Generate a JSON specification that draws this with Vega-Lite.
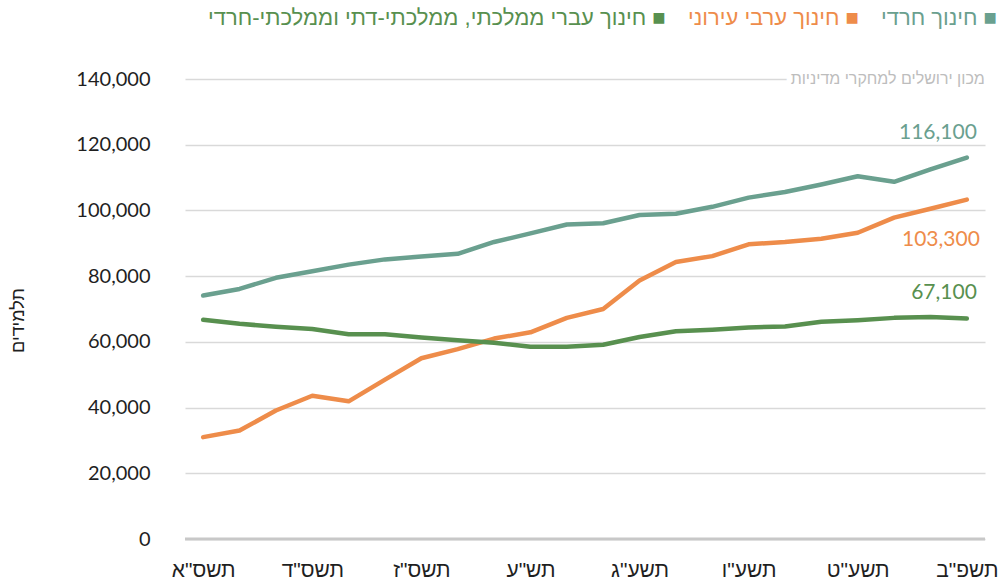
{
  "$schema": "https://vega.github.io/schema/vega-lite/v6.json",
  "width": 800,
  "height": 460,
  "autosize": "none",
  "padding": {"left": 185, "top": 79, "right": 15, "bottom": 44},
  "background": "white",
  "config": {"view": {"stroke": null}, "font": "Liberation Sans"},
  "data": {"values": [
    {"year": "תשס\"א", "series": "חינוך חרדי", "value": 74100},
    {"year": "תשס\"ב", "series": "חינוך חרדי", "value": 76100},
    {"year": "תשס\"ג", "series": "חינוך חרדי", "value": 79500},
    {"year": "תשס\"ד", "series": "חינוך חרדי", "value": 81500},
    {"year": "תשס\"ה", "series": "חינוך חרדי", "value": 83500},
    {"year": "תשס\"ו", "series": "חינוך חרדי", "value": 85100},
    {"year": "תשס\"ז", "series": "חינוך חרדי", "value": 86000},
    {"year": "תשס\"ח", "series": "חינוך חרדי", "value": 86800},
    {"year": "תשס\"ט", "series": "חינוך חרדי", "value": 90400},
    {"year": "תש\"ע", "series": "חינוך חרדי", "value": 93000},
    {"year": "תשע\"א", "series": "חינוך חרדי", "value": 95700},
    {"year": "תשע\"ב", "series": "חינוך חרדי", "value": 96100},
    {"year": "תשע\"ג", "series": "חינוך חרדי", "value": 98600},
    {"year": "תשע\"ד", "series": "חינוך חרדי", "value": 99000},
    {"year": "תשע\"ה", "series": "חינוך חרדי", "value": 101100},
    {"year": "תשע\"ו", "series": "חינוך חרדי", "value": 103900},
    {"year": "תשע\"ז", "series": "חינוך חרדי", "value": 105600},
    {"year": "תשע\"ח", "series": "חינוך חרדי", "value": 107900},
    {"year": "תשע\"ט", "series": "חינוך חרדי", "value": 110400},
    {"year": "תש\"פ", "series": "חינוך חרדי", "value": 108700},
    {"year": "תשפ\"א", "series": "חינוך חרדי", "value": 112500},
    {"year": "תשפ\"ב", "series": "חינוך חרדי", "value": 116100},
    {"year": "תשס\"א", "series": "חינוך ערבי עירוני", "value": 31000},
    {"year": "תשס\"ב", "series": "חינוך ערבי עירוני", "value": 33000},
    {"year": "תשס\"ג", "series": "חינוך ערבי עירוני", "value": 39100},
    {"year": "תשס\"ד", "series": "חינוך ערבי עירוני", "value": 43600},
    {"year": "תשס\"ה", "series": "חינוך ערבי עירוני", "value": 41900},
    {"year": "תשס\"ו", "series": "חינוך ערבי עירוני", "value": 48500},
    {"year": "תשס\"ז", "series": "חינוך ערבי עירוני", "value": 55000},
    {"year": "תשס\"ח", "series": "חינוך ערבי עירוני", "value": 57800},
    {"year": "תשס\"ט", "series": "חינוך ערבי עירוני", "value": 61000},
    {"year": "תש\"ע", "series": "חינוך ערבי עירוני", "value": 62900},
    {"year": "תשע\"א", "series": "חינוך ערבי עירוני", "value": 67300},
    {"year": "תשע\"ב", "series": "חינוך ערבי עירוני", "value": 70000},
    {"year": "תשע\"ג", "series": "חינוך ערבי עירוני", "value": 78700},
    {"year": "תשע\"ד", "series": "חינוך ערבי עירוני", "value": 84300},
    {"year": "תשע\"ה", "series": "חינוך ערבי עירוני", "value": 86100},
    {"year": "תשע\"ו", "series": "חינוך ערבי עירוני", "value": 89700},
    {"year": "תשע\"ז", "series": "חינוך ערבי עירוני", "value": 90400},
    {"year": "תשע\"ח", "series": "חינוך ערבי עירוני", "value": 91400},
    {"year": "תשע\"ט", "series": "חינוך ערבי עירוני", "value": 93200},
    {"year": "תש\"פ", "series": "חינוך ערבי עירוני", "value": 97800},
    {"year": "תשפ\"א", "series": "חינוך ערבי עירוני", "value": 100500},
    {"year": "תשפ\"ב", "series": "חינוך ערבי עירוני", "value": 103300},
    {"year": "תשס\"א", "series": "חינוך עברי ממלכתי, ממלכתי-דתי וממלכתי-חרדי", "value": 66700},
    {"year": "תשס\"ב", "series": "חינוך עברי ממלכתי, ממלכתי-דתי וממלכתי-חרדי", "value": 65500},
    {"year": "תשס\"ג", "series": "חינוך עברי ממלכתי, ממלכתי-דתי וממלכתי-חרדי", "value": 64600},
    {"year": "תשס\"ד", "series": "חינוך עברי ממלכתי, ממלכתי-דתי וממלכתי-חרדי", "value": 63900},
    {"year": "תשס\"ה", "series": "חינוך עברי ממלכתי, ממלכתי-דתי וממלכתי-חרדי", "value": 62300},
    {"year": "תשס\"ו", "series": "חינוך עברי ממלכתי, ממלכתי-דתי וממלכתי-חרדי", "value": 62300},
    {"year": "תשס\"ז", "series": "חינוך עברי ממלכתי, ממלכתי-דתי וממלכתי-חרדי", "value": 61300},
    {"year": "תשס\"ח", "series": "חינוך עברי ממלכתי, ממלכתי-דתי וממלכתי-חרדי", "value": 60500},
    {"year": "תשס\"ט", "series": "חינוך עברי ממלכתי, ממלכתי-דתי וממלכתי-חרדי", "value": 59700},
    {"year": "תש\"ע", "series": "חינוך עברי ממלכתי, ממלכתי-דתי וממלכתי-חרדי", "value": 58500},
    {"year": "תשע\"א", "series": "חינוך עברי ממלכתי, ממלכתי-דתי וממלכתי-חרדי", "value": 58500},
    {"year": "תשע\"ב", "series": "חינוך עברי ממלכתי, ממלכתי-דתי וממלכתי-חרדי", "value": 59100},
    {"year": "תשע\"ג", "series": "חינוך עברי ממלכתי, ממלכתי-דתי וממלכתי-חרדי", "value": 61500},
    {"year": "תשע\"ד", "series": "חינוך עברי ממלכתי, ממלכתי-דתי וממלכתי-חרדי", "value": 63200},
    {"year": "תשע\"ה", "series": "חינוך עברי ממלכתי, ממלכתי-דתי וממלכתי-חרדי", "value": 63700},
    {"year": "תשע\"ו", "series": "חינוך עברי ממלכתי, ממלכתי-דתי וממלכתי-חרדי", "value": 64400},
    {"year": "תשע\"ז", "series": "חינוך עברי ממלכתי, ממלכתי-דתי וממלכתי-חרדי", "value": 64700},
    {"year": "תשע\"ח", "series": "חינוך עברי ממלכתי, ממלכתי-דתי וממלכתי-חרדי", "value": 66100},
    {"year": "תשע\"ט", "series": "חינוך עברי ממלכתי, ממלכתי-דתי וממלכתי-חרדי", "value": 66600},
    {"year": "תש\"פ", "series": "חינוך עברי ממלכתי, ממלכתי-דתי וממלכתי-חרדי", "value": 67300},
    {"year": "תשפ\"א", "series": "חינוך עברי ממלכתי, ממלכתי-דתי וממלכתי-חרדי", "value": 67600},
    {"year": "תשפ\"ב", "series": "חינוך עברי ממלכתי, ממלכתי-דתי וממלכתי-חרדי", "value": 67100}
  ]},
  "layer": [
    {
      "data": {"values": [{"z": 0}]},
      "mark": {"type": "rule", "color": "#c8c8c8", "strokeWidth": 3},
      "encoding": {"y": {"field": "z", "type": "quantitative"}}
    },
    {
      "mark": {"type": "line", "strokeWidth": 4.5, "strokeCap": "round", "strokeJoin": "round"},
      "encoding": {
        "x": {
          "field": "year", "type": "ordinal",
          "scale": {"type": "point", "padding": 0.5, "domain": ["תשס\"א","תשס\"ב","תשס\"ג","תשס\"ד","תשס\"ה","תשס\"ו","תשס\"ז","תשס\"ח","תשס\"ט","תש\"ע","תשע\"א","תשע\"ב","תשע\"ג","תשע\"ד","תשע\"ה","תשע\"ו","תשע\"ז","תשע\"ח","תשע\"ט","תש\"פ","תשפ\"א","תשפ\"ב"]},
          "axis": {
            "values": ["תשס\"א","תשס\"ד","תשס\"ז","תש\"ע","תשע\"ג","תשע\"ו","תשע\"ט","תשפ\"ב"],
            "domain": false, "ticks": false, "grid": false,
            "labelAngle": 0, "labelFontSize": 21, "labelFont": "Liberation Sans",
            "labelColor": "#1f1f1f", "labelPadding": 20, "title": null
          }
        },
        "y": {
          "field": "value", "type": "quantitative",
          "scale": {"domain": [0, 140000], "nice": false},
          "axis": {
            "values": [0, 20000, 40000, 60000, 80000, 100000, 120000, 140000],
            "format": ",d", "domain": false, "ticks": false,
            "labelFontSize": 20, "labelFont": "Lato", "labelColor": "#1f1f1f", "labelPadding": 35,
            "gridColor": "#d9d9d9", "gridWidth": 1.5,
            "title": "תלמידים", "titleFontSize": 18, "titleFont": "Liberation Sans",
            "titleFontWeight": "normal", "titleColor": "#1f1f1f",
            "titleX": -167, "titleY": 241, "titleAngle": -90, "titleAlign": "center", "titleBaseline": "middle"
          }
        },
        "color": {
          "field": "series", "type": "nominal",
          "scale": {
            "domain": ["חינוך עברי ממלכתי, ממלכתי-דתי וממלכתי-חרדי", "חינוך ערבי עירוני", "חינוך חרדי"],
            "range": ["#58904f", "#ee8c4a", "#6aa08f"]
          },
          "legend": {
            "orient": "none", "legendX": 1, "legendY": -72, "direction": "horizontal",
            "title": null, "symbolSize": 0, "symbolStrokeWidth": 0, "symbolOpacity": 0,
            "labelOffset": 0, "columnPadding": -5, "labelFontSize": 22,
            "labelFont": "Liberation Sans", "labelLimit": 800,
            "labelExpr": "datum.label + ' ■'",
            "encode": {"labels": {"update": {"fill": {"signal": "scale('color', datum.value)"}}}}
          }
        }
      }
    },
    {
      "transform": [{"filter": "datum.year === 'תשפ\"ב' && datum.series === 'חינוך חרדי'"}],
      "mark": {"type": "text", "align": "right", "baseline": "middle", "dx": 10, "dy": -25, "fontSize": 21, "font": "Lato", "color": "#6aa08f"},
      "encoding": {"x": {"field": "year", "type": "ordinal"}, "y": {"field": "value", "type": "quantitative"}, "text": {"field": "value", "type": "quantitative", "format": ",d"}}
    },
    {
      "transform": [{"filter": "datum.year === 'תשפ\"ב' && datum.series === 'חינוך ערבי עירוני'"}],
      "mark": {"type": "text", "align": "right", "baseline": "middle", "dx": 13, "dy": 40, "fontSize": 21, "font": "Lato", "color": "#ee8c4a"},
      "encoding": {"x": {"field": "year", "type": "ordinal"}, "y": {"field": "value", "type": "quantitative"}, "text": {"field": "value", "type": "quantitative", "format": ",d"}}
    },
    {
      "transform": [{"filter": "datum.year === 'תשפ\"ב' && datum.series === 'חינוך עברי ממלכתי, ממלכתי-דתי וממלכתי-חרדי'"}],
      "mark": {"type": "text", "align": "right", "baseline": "middle", "dx": 10, "dy": -26, "fontSize": 21, "font": "Lato", "color": "#58904f"},
      "encoding": {"x": {"field": "year", "type": "ordinal"}, "y": {"field": "value", "type": "quantitative"}, "text": {"field": "value", "type": "quantitative", "format": ",d"}}
    },
    {
      "data": {"values": [{"src": "מכון ירושלים למחקרי מדיניות", "yr": "תשפ\"ב", "v": 140000}]},
      "mark": {"type": "text", "align": "right", "baseline": "middle", "dx": 18, "fontSize": 16, "font": "Liberation Sans", "fill": "white", "stroke": "white", "strokeWidth": 9},
      "encoding": {"x": {"field": "yr", "type": "ordinal"}, "y": {"field": "v", "type": "quantitative"}, "text": {"field": "src"}}
    },
    {
      "data": {"values": [{"src": "מכון ירושלים למחקרי מדיניות", "yr": "תשפ\"ב", "v": 140000}]},
      "mark": {"type": "text", "align": "right", "baseline": "middle", "dx": 18, "fontSize": 16, "font": "Liberation Sans", "color": "#bdbdbd"},
      "encoding": {"x": {"field": "yr", "type": "ordinal"}, "y": {"field": "v", "type": "quantitative"}, "text": {"field": "src"}}
    }
  ]
}
